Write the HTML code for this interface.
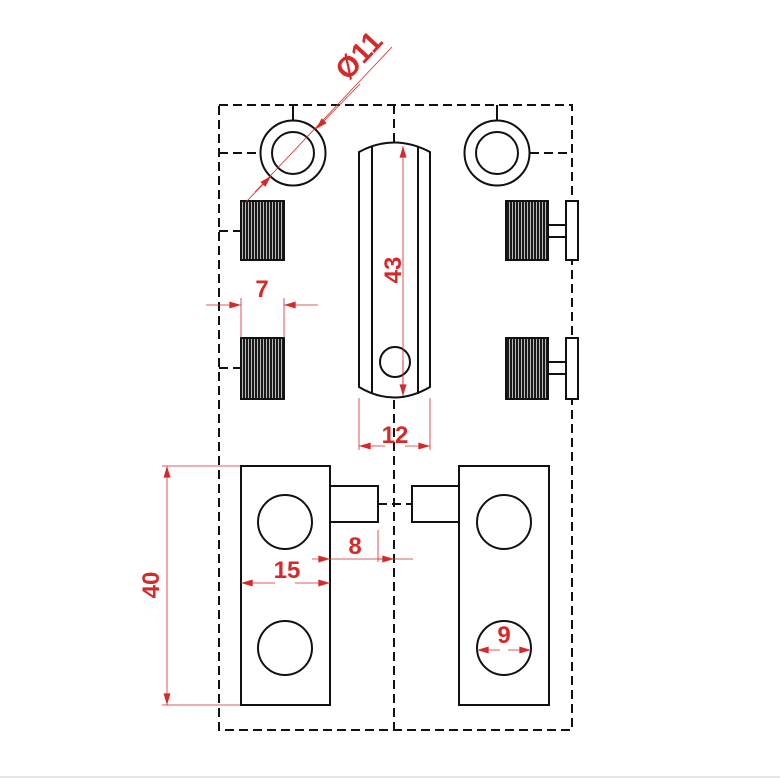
<!DOCTYPE html>
<html><head><meta charset="utf-8"><style>body{margin:0;background:#fff}svg{display:block}</style></head>
<body>
<svg width="780" height="780" viewBox="0 0 780 780" xmlns="http://www.w3.org/2000/svg">
<defs>
<pattern id="kn" width="3" height="10" patternUnits="userSpaceOnUse"><rect width="2.3" height="10" fill="#1a1a1a"/></pattern>
<marker id="ar" viewBox="0 0 10 6" refX="10" refY="3" markerWidth="16" markerHeight="7" markerUnits="userSpaceOnUse" orient="auto"><path d="M0,0L10,3L0,6z" fill="#d42a2a"/></marker>
</defs>
<g fill="none" stroke="#111" stroke-width="2">
<g stroke-dasharray="9,5">
<rect x="219" y="105" width="353" height="625"/>
<line x1="394" y1="105" x2="394" y2="142"/>
<line x1="394" y1="400" x2="394" y2="730"/>
<line x1="219" y1="153" x2="261" y2="153"/>
<line x1="530" y1="153" x2="572" y2="153"/>
<line x1="219" y1="231" x2="241" y2="231"/>
<line x1="219" y1="368" x2="241" y2="368"/>
<line x1="378" y1="504" x2="412" y2="504"/>
</g>
<line x1="293" y1="105" x2="293" y2="121"/>
<line x1="497" y1="105" x2="497" y2="121"/>
<circle cx="293" cy="153" r="32.5"/><circle cx="293" cy="153" r="21"/>
<circle cx="497" cy="153" r="32.5"/><circle cx="497" cy="153" r="21"/>
<path d="M359,152 Q394,133 430,152 L430,387 Q394,408 359,387 Z"/>
<line x1="372" y1="146" x2="372" y2="394"/>
<line x1="418" y1="146" x2="418" y2="394"/>
<circle cx="395" cy="362" r="15"/>
<rect x="241" y="201" width="43" height="59" fill="url(#kn)"/>
<rect x="241" y="338" width="43" height="61" fill="url(#kn)"/>
<rect x="506" y="201" width="42" height="59" fill="url(#kn)"/>
<rect x="506" y="338" width="42" height="61" fill="url(#kn)"/>
<rect x="548" y="225" width="18" height="12"/>
<rect x="566" y="201" width="12" height="59" fill="#fff"/>
<rect x="548" y="362" width="18" height="12"/>
<rect x="566" y="338" width="12" height="61" fill="#fff"/>
<rect x="241" y="466" width="89" height="239"/>
<rect x="330" y="486" width="48" height="36"/>
<rect x="459" y="466" width="90" height="239"/>
<rect x="412" y="486" width="47" height="36"/>
<circle cx="285" cy="522" r="27"/><circle cx="285" cy="648" r="27"/>
<circle cx="504" cy="522" r="27"/><circle cx="504" cy="648" r="27"/>
</g>
<g stroke="#d42a2a" stroke-width="0.8" fill="none">
<line x1="392" y1="47" x2="255" y2="192"/>
<line x1="360" y1="84" x2="316" y2="129" marker-end="url(#ar)"/>
<line x1="245" y1="203" x2="271" y2="176" marker-end="url(#ar)"/>
<line x1="403" y1="396" x2="403" y2="146" marker-end="url(#ar)"/>
<line x1="403" y1="360" x2="403" y2="396" marker-end="url(#ar)"/>
<line x1="241" y1="298" x2="241" y2="338"/><line x1="284" y1="298" x2="284" y2="338"/>
<line x1="206" y1="305" x2="241" y2="305" marker-end="url(#ar)"/>
<line x1="318" y1="305" x2="284" y2="305" marker-end="url(#ar)"/>
<line x1="359" y1="398" x2="359" y2="450"/><line x1="430" y1="398" x2="430" y2="450"/>
<line x1="385" y1="446" x2="359" y2="446" marker-end="url(#ar)"/>
<line x1="405" y1="446" x2="430" y2="446" marker-end="url(#ar)"/>
<line x1="378" y1="530" x2="378" y2="562"/>
<line x1="312" y1="559" x2="330" y2="559" marker-end="url(#ar)"/>
<line x1="330" y1="559" x2="413" y2="559"/>
<line x1="378" y1="559" x2="394" y2="559" marker-end="url(#ar)"/>
<line x1="275" y1="583" x2="241" y2="583" marker-end="url(#ar)"/>
<line x1="295" y1="583" x2="330" y2="583" marker-end="url(#ar)"/>
<line x1="162" y1="466" x2="240" y2="466"/><line x1="162" y1="705" x2="240" y2="705"/>
<line x1="167" y1="585" x2="167" y2="466" marker-end="url(#ar)"/>
<line x1="167" y1="585" x2="167" y2="705" marker-end="url(#ar)"/>
<line x1="500" y1="650" x2="477" y2="650" marker-end="url(#ar)"/>
<line x1="508" y1="650" x2="531" y2="650" marker-end="url(#ar)"/>
</g>
<g fill="#d42a2a" font-family="Liberation Sans, sans-serif" font-weight="bold" font-size="24" text-anchor="middle">
<text x="366" y="62" font-size="29" transform="rotate(-47 366 62)">Ø11</text>
<text x="392" y="279" transform="rotate(-90 392 270)">43</text>
<text x="262" y="297">7</text>
<text x="395" y="443">12</text>
<text x="355" y="554">8</text>
<text x="287" y="578">15</text>
<text x="150" y="594" transform="rotate(-90 150 585)">40</text>
<text x="504" y="643">9</text>
</g>
<line x1="0" y1="777" x2="780" y2="777" stroke="#ccc" stroke-width="1"/>
</svg>
</body></html>
